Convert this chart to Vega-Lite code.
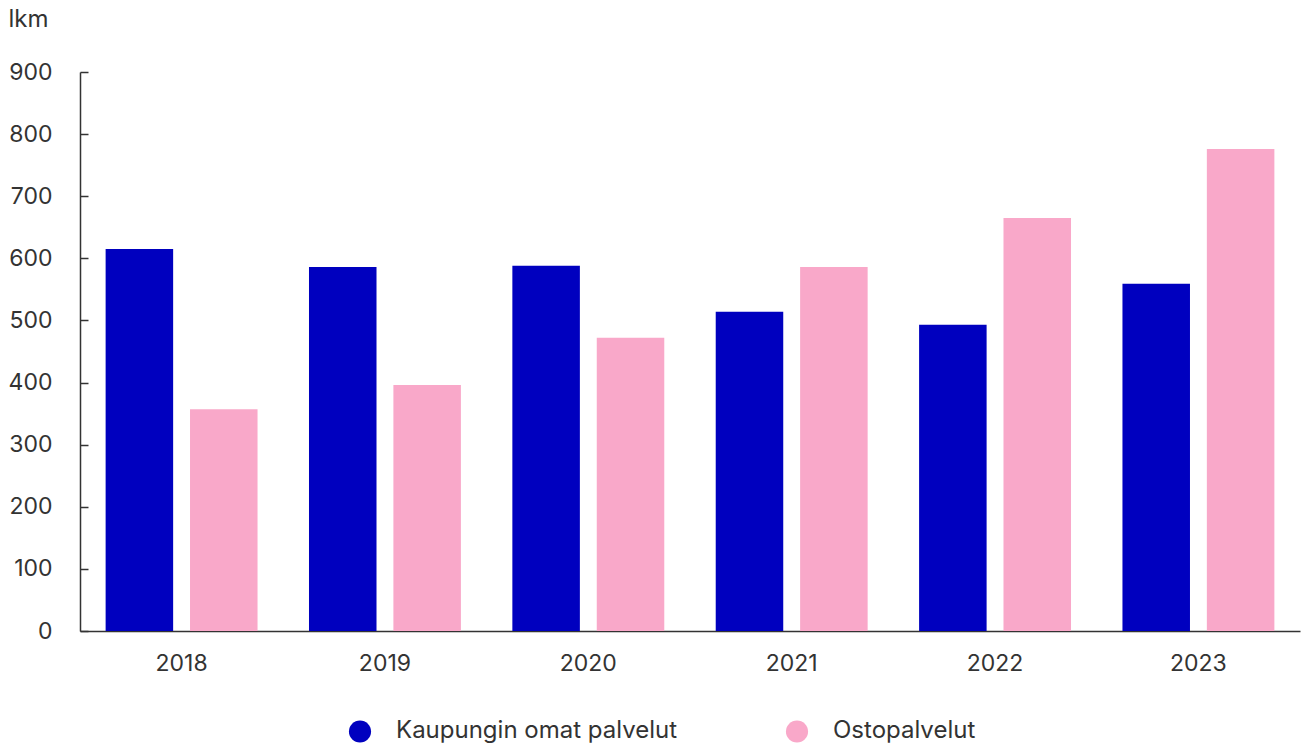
{
  "$schema": "https://vega.github.io/schema/vega-lite/v6.json",
  "width": 1220,
  "height": 559,
  "autosize": {"type": "none"},
  "padding": {"left": 80, "top": 72, "right": 1, "bottom": 115},
  "background": "white",
  "config": {
    "view": {"stroke": null},
    "font": "Inter",
    "axis": {"labelFont": "Inter", "titleFont": "Inter", "labelColor": "#333333", "titleColor": "#333333", "domainColor": "#333333", "tickColor": "#333333", "grid": false}
  },
  "data": {
    "values": [
      {"vuosi": "2018", "sarja": "Kaupungin omat palvelut", "lkm": 615},
      {"vuosi": "2018", "sarja": "Ostopalvelut", "lkm": 357},
      {"vuosi": "2019", "sarja": "Kaupungin omat palvelut", "lkm": 586},
      {"vuosi": "2019", "sarja": "Ostopalvelut", "lkm": 396},
      {"vuosi": "2020", "sarja": "Kaupungin omat palvelut", "lkm": 588},
      {"vuosi": "2020", "sarja": "Ostopalvelut", "lkm": 472},
      {"vuosi": "2021", "sarja": "Kaupungin omat palvelut", "lkm": 514},
      {"vuosi": "2021", "sarja": "Ostopalvelut", "lkm": 586},
      {"vuosi": "2022", "sarja": "Kaupungin omat palvelut", "lkm": 493},
      {"vuosi": "2022", "sarja": "Ostopalvelut", "lkm": 665},
      {"vuosi": "2023", "sarja": "Kaupungin omat palvelut", "lkm": 559},
      {"vuosi": "2023", "sarja": "Ostopalvelut", "lkm": 776}
    ]
  },
  "mark": {"type": "bar"},
  "encoding": {
    "x": {
      "field": "vuosi", "type": "nominal",
      "scale": {"paddingInner": 0.253, "paddingOuter": 0.126},
      "axis": {"title": null, "labelAngle": 0, "labelFontSize": 23, "ticks": false, "labelPadding": 21, "domainWidth": 1.5}
    },
    "xOffset": {"field": "sarja", "type": "nominal", "scale": {"paddingInner": 0.2, "paddingOuter": 0}},
    "y": {
      "field": "lkm", "type": "quantitative",
      "scale": {"domain": [0, 900]},
      "axis": {
        "title": "lkm", "titleAngle": 0, "titleFontSize": 24, "titleFontWeight": "normal",
        "titleAlign": "left", "titleBaseline": "top", "titleX": -72, "titleY": -65,
        "values": [0, 100, 200, 300, 400, 500, 600, 700, 800, 900],
        "tickSize": -8, "labelFontSize": 23, "labelPadding": 36, "domainWidth": 1.5, "tickWidth": 1.5
      }
    },
    "color": {
      "field": "sarja", "type": "nominal",
      "scale": {"domain": ["Kaupungin omat palvelut", "Ostopalvelut"], "range": ["#0000BF", "#F9A8C9"]},
      "legend": {
        "title": null, "orient": "none", "direction": "horizontal",
        "legendX": 268, "legendY": 647,
        "symbolType": "circle", "symbolSize": 490, "symbolOpacity": 1,
        "labelFontSize": 24, "labelColor": "#333333", "labelFont": "Inter", "labelLimit": 500,
        "columnPadding": 104, "labelOffset": 24,
        "encode": {
          "symbols": {"update": {"fill": [{"test": "datum.value === 'Kaupungin omat palvelut'", "value": "#40409A"}, {"value": "#F6A6C9"}]}}
        }
      }
    }
  }
}
